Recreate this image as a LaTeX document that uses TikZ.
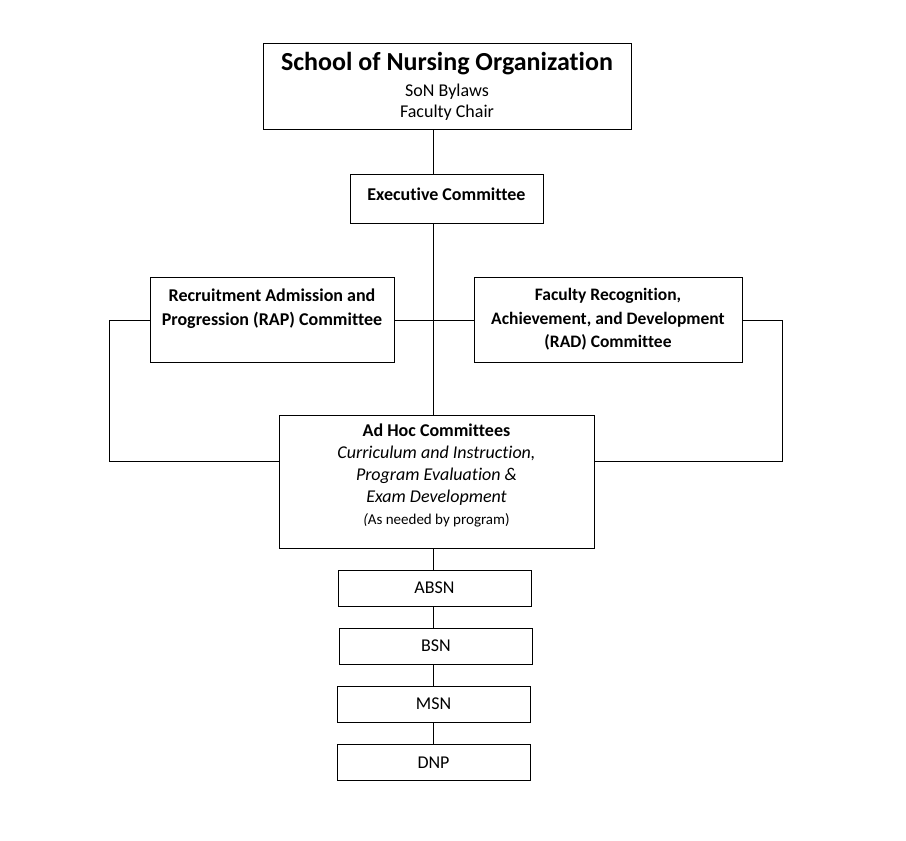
\documentclass[tikz,border=0pt]{standalone}
\usepackage{fontspec}
\setmainfont[Ligatures=CommonOff]{Carlito}
\usetikzlibrary{positioning, calc}

\begin{document}
\begin{tikzpicture}[x=1pt, y=-1pt, line width=1pt,
    orgbox/.style={rectangle, draw, inner sep=0pt, align=center, font=\fontsize{18}{21}\selectfont},
    progbox/.style={orgbox, minimum width=193pt, minimum height=36pt}]

    \useasboundingbox (0,0) rectangle (906,841);

    \node[orgbox, minimum width=368pt, minimum height=86pt] (son) at (447,86)
        {{\fontsize{26}{28}\selectfont\bfseries School of Nursing Organization}\\[5pt]SoN Bylaws\\Faculty Chair};
    \node[orgbox, minimum width=193pt, minimum height=49pt] (exec) at (446.5,198.5)
        {\raisebox{9pt}{\bfseries Executive Committee}};
    \node[orgbox, minimum width=244pt, minimum height=85pt, font=\fontsize{18}{24}\selectfont\bfseries] (rap) at (272,319.5)
        {Recruitment Admission and\\Progression (RAP) Committee\\[-6pt] \strut};
    \node[orgbox, minimum width=268pt, minimum height=85pt, font=\fontsize{17.5}{23.5}\selectfont\bfseries] (rad) at (608,319.5)
        {Faculty Recognition,\\Achievement, and Development\\(RAD) Committee};
    \node[orgbox, minimum width=315pt, minimum height=133pt, font=\fontsize{18}{22}\selectfont] (adhoc) at (436.5,481.5)
        {\textbf{Ad Hoc Committees}\\\textit{Curriculum and Instruction,}\\\textit{Program Evaluation \&}\\\textit{Exam Development}\\{\fontsize{15}{20}\selectfont\textit{(}As needed by program)}\\[-14pt] \strut};

    \node[progbox] (absn) at (434.5,588) {ABSN};
    \node[progbox] (bsn) at (436,646) {BSN};
    \node[progbox] (msn) at (433.5,704) {MSN};
    \node[progbox] (dnp) at (433.5,762.5) {DNP};

    % spine and side links
    \coordinate (spine) at (433,0);
    \coordinate (lft) at (109,320);
    \coordinate (lftlow) at (109,461);
    \coordinate (rgt) at (782,320);
    \coordinate (rgtlow) at (782,461);

    \draw (son.south -| spine) -- (exec.north -| spine);
    \draw (exec.south -| spine) -- (adhoc.north -| spine);
    \draw (rap.east |- lft) -- (rad.west |- lft);
    \draw (rap.west |- lft) -- (lft) -- (lftlow) -- (adhoc.west |- lftlow);
    \draw (rad.east |- rgt) -- (rgt) -- (rgtlow) -- (adhoc.east |- rgtlow);
    \draw (adhoc.south -| spine) -- (absn.north -| spine);
    \draw (absn.south -| spine) -- (bsn.north -| spine);
    \draw (bsn.south -| spine) -- (msn.north -| spine);
    \draw (msn.south -| spine) -- (dnp.north -| spine);
\end{tikzpicture}
\end{document}
